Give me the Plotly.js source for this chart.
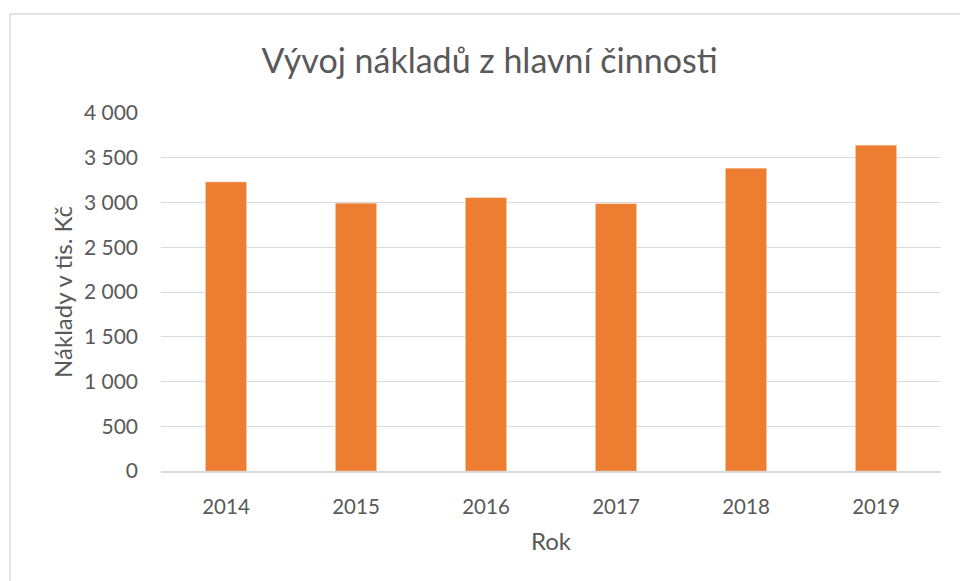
<!DOCTYPE html>
<html>
<head>
<meta charset="utf-8">
<script src="https://cdn.plot.ly/plotly-3.0.1.min.js"></script>
<style>html,body{margin:0;padding:0;background:#fff;}#chart{width:960px;height:581px;}</style>
</head>
<body>
<div id="chart"></div>
<script>
const years = ['2014', '2015', '2016', '2017', '2018', '2019'];
const costs = [3229, 2991, 3054, 2987, 3382, 3639];
const yTickVals = [0, 500, 1000, 1500, 2000, 2500, 3000, 3500, 4000];

const chartTitle = 'Vývoj nákladů z hlavní činnosti';
const xTitle = 'Rok';
const yTitle = 'Náklady v tis. Kč';

const textColor = '#595959';
const fontFam = 'Lato, "Open Sans", sans-serif';

const trace = {
  type: 'bar',
  x: years,
  y: costs,
  marker: {color: '#ED7D31', line: {color: '#F8C6A4', width: 0.5}},
  hoverinfo: 'x+y'
};

const layout = {
  width: 960,
  height: 581,
  margin: {l: 161, r: 19, t: 113, b: 110},
  paper_bgcolor: '#ffffff',
  plot_bgcolor: '#ffffff',
  separators: ', ',
  font: {family: fontFam, color: textColor, size: 21},
  title: {
    text: chartTitle,
    font: {family: fontFam, size: 34, color: textColor},
    x: 0.51, xanchor: 'center',
    y: 0.895, yanchor: 'middle'
  },
  bargap: 0.685,
  showlegend: false,
  xaxis: {
    type: 'category',
    showgrid: false,
    showline: true,
    linecolor: '#D9D9D9',
    linewidth: 1.5,
    ticks: '',
    ticklabelstandoff: 17,
    tickfont: {size: 20.5, color: textColor},
    title: {text: xTitle, font: {size: 24, color: textColor}, standoff: 16}
  },
  yaxis: {
    range: [0, 4000],
    tickvals: yTickVals,
    tickformat: ',d',
    showgrid: true,
    gridcolor: '#D9D9D9',
    gridwidth: 1.3,
    zeroline: false,
    showline: false,
    ticks: '',
    ticklabelstandoff: 22,
    tickfont: {size: 21, color: textColor},
    title: {text: yTitle, font: {size: 24, color: textColor}, standoff: 4}
  },
  shapes: [{
    type: 'rect', xref: 'paper', yref: 'paper',
    x0: -0.1936, x1: 1.05, y0: -0.35, y1: 1.2765,
    line: {color: '#D9D9D9', width: 1.5},
    fillcolor: 'rgba(0,0,0,0)',
    layer: 'below'
  }]
};

Plotly.newPlot('chart', [trace], layout, {displayModeBar: false, responsive: false});
</script>
</body>
</html>
